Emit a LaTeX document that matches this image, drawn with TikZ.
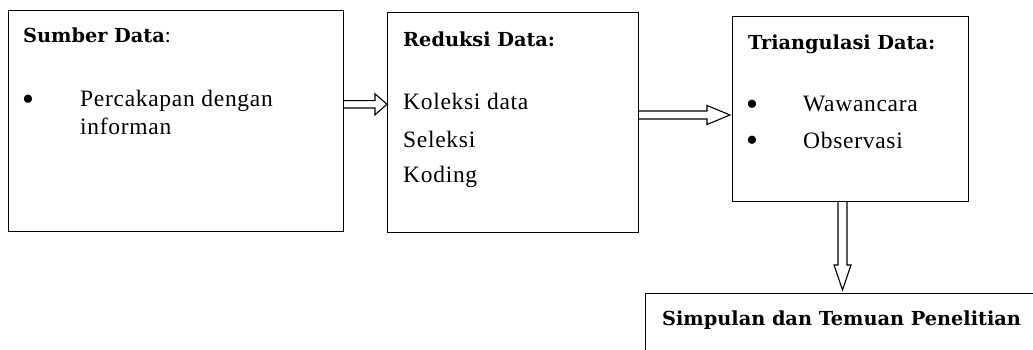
\documentclass[tikz,border=0pt]{standalone}
\usepackage{fontspec}
\setmainfont{Liberation Serif}
\newfontfamily\bodyfont[LetterSpace=3]{Liberation Serif}
\newfontfamily\headfont{DejaVu Serif}
\usetikzlibrary{calc}

\tikzset{
  box/.style={draw, line width=1.2pt, rectangle, inner sep=0pt, anchor=north west},
  head/.style={inner sep=0pt, anchor=base west, font=\headfont\bfseries\fontsize{19.3}{19.3}\selectfont},
  body/.style={inner sep=0pt, anchor=base west, font=\bodyfont\fontsize{23.5}{23.5}\selectfont},
  dot/.style={inner sep=0pt, anchor=center, font=\fontsize{34}{34}\selectfont},
  hollow/.style={draw, line width=1.1pt, line join=miter}
}

% horizontal hollow arrow: start, tip, half shaft, half head, head length
\newcommand\hollowright[5]{%
  \draw[hollow] let \p1=#1, \p2=#2 in
    (\x1,\y1+#3) -- (\x2-#5,\y1+#3) -- (\x2-#5,\y1+#4) -- (\x2,\y1)
    -- (\x2-#5,\y1-#4) -- (\x2-#5,\y1-#3) -- (\x1,\y1-#3);}
% vertical hollow arrow pointing down
\newcommand\hollowdown[5]{%
  \draw[hollow] let \p1=#1, \p2=#2 in
    (\x1-#3,\y1) -- (\x1-#3,\y2+#5) -- (\x1-#4,\y2+#5) -- (\x1,\y2)
    -- (\x1+#4,\y2+#5) -- (\x1+#3,\y2+#5) -- (\x1+#3,\y1);}

\begin{document}
\begin{tikzpicture}[x=1pt,y=-1pt]
\clip (0,0) rectangle (1033,350);
\fill[white] (0,0) rectangle (1033,350);

% boxes
\node[box, minimum width=335pt, minimum height=221pt] (b1) at (8,10) {};
\node[box, minimum width=251pt, minimum height=220pt] (b2) at (387,12) {};
\node[box, minimum width=236pt, minimum height=185pt] (b3) at (732,16) {};
\node[box, minimum width=420pt, minimum height=100pt] (b4) at (645,293) {};

% texts of the first box
\node[head] (t1) at (23,43) {Sumber Data\normalfont\fontsize{21.5}{21.5}\selectfont:};
\node[dot] (d1) at (28,103) {\textbullet};
\node[body] (s1) at (80,107) {Percakapan dengan};
\node[body] (s2) at (80,135) {informan};

% texts of the second box
\node[head] (t2) at (403,47) {Reduksi Data:};
\node[body] (r1) at (403,110) {Koleksi data};
\node[body] (r2) at (403,147) {Seleksi};
\node[body] (r3) at (403,182) {Koding};

% texts of the third box
\node[head] (t3) at (748,50) {Triangulasi Data:};
\node[dot] (d2) at (752,108) {\textbullet};
\node[body] (w1) at (803,112) {Wawancara};
\node[dot] (d3) at (752,144) {\textbullet};
\node[body] (w2) at (803,148) {Observasi};

% text of the last box
\node[head] (t4) at (662,325) {Simpulan dan Temuan Penelitian};

% anchor points for the arrows
\coordinate (a1s) at ($(b1.north east)+(0,94.3)$);
\coordinate (a1e) at ($(b2.north west)+(0,92.3)$);
\coordinate (a2s) at ($(b2.north east)+(0,103)$);
\coordinate (a2e) at ($(b3.north west)+(-2,99)$);
\coordinate (a3s) at ($(b3.south west)+(110.5,0)$);
\coordinate (a3e) at ($(b4.north west)+(197.5,-3)$);

\hollowright{(a1s)}{(a1e)}{3.7pt}{10.5pt}{12pt}
\hollowright{(a2s)}{(a2e)}{4pt}{9.5pt}{23pt}
\hollowdown{(a3s)}{(a3e)}{4.5pt}{8.5pt}{25pt}
\end{tikzpicture}
\end{document}
